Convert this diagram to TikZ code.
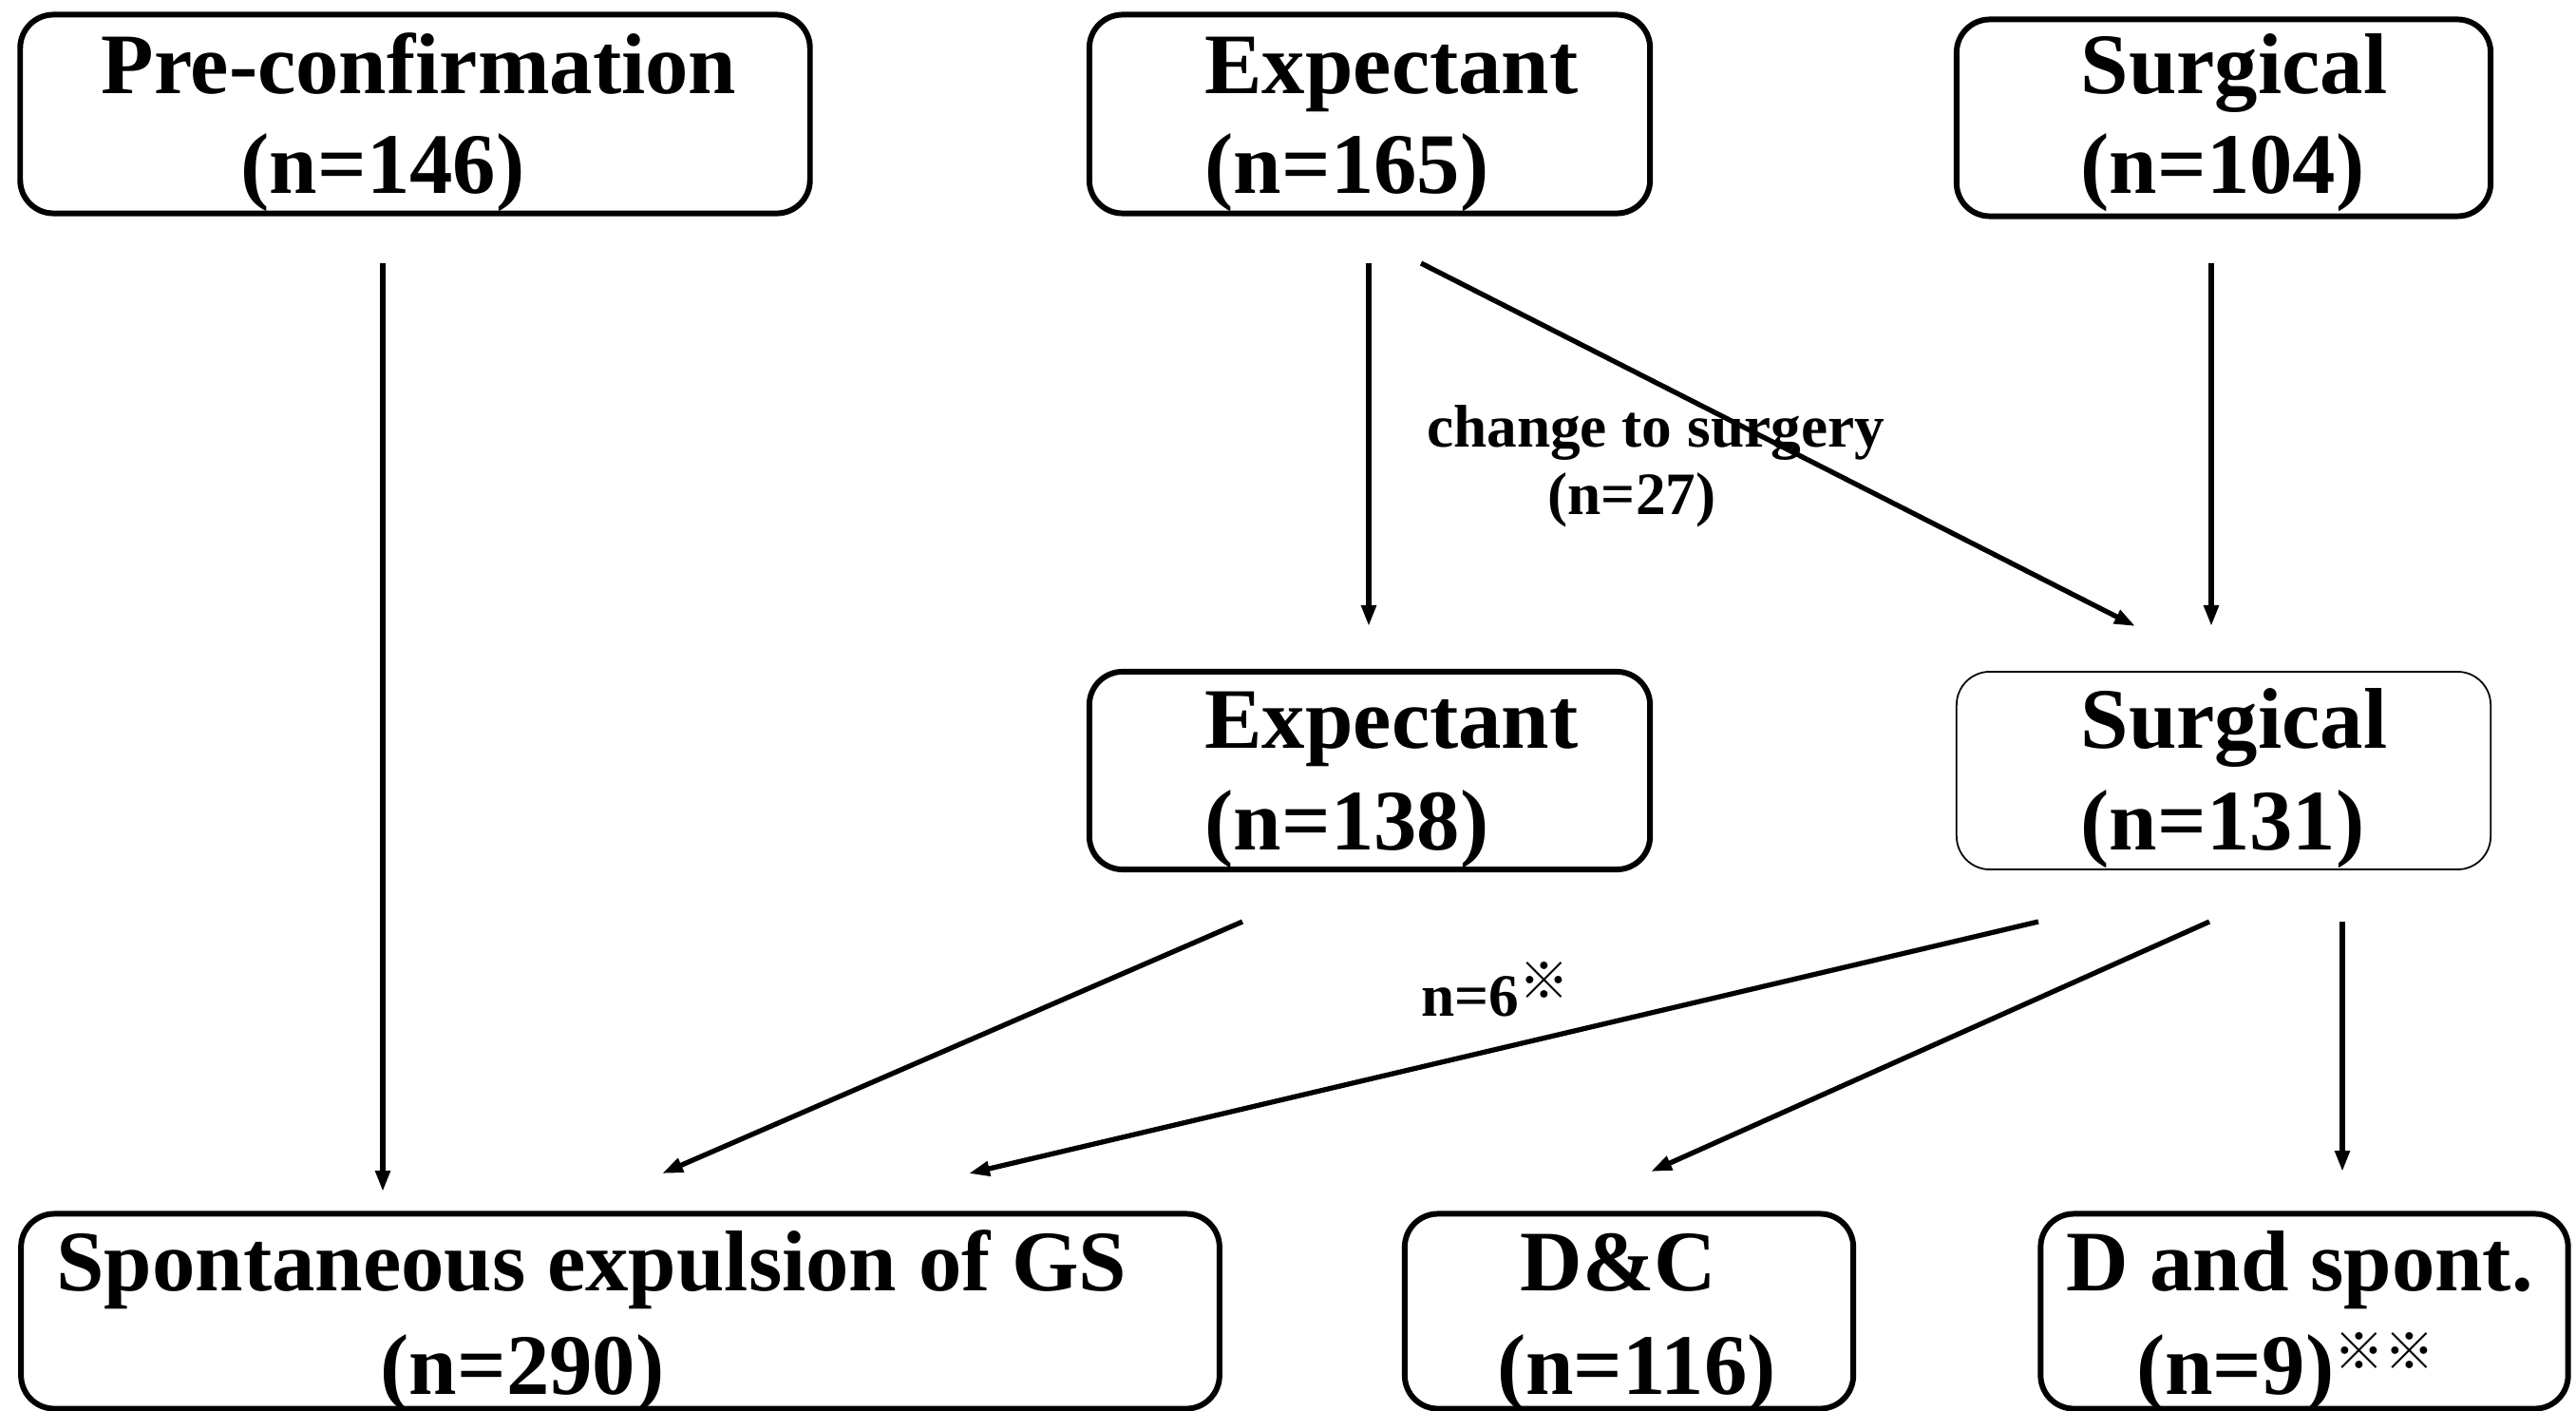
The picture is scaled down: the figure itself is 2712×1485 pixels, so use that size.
\documentclass[tikz,border=0pt]{standalone}
\usepackage{fontspec}
\setmainfont{Liberation Serif}
\newfontfamily\cjk{Noto Sans CJK JP}
\usetikzlibrary{arrows.meta}
\newcommand{\refmark}{\raisebox{0.28em}{\cjk\fontsize{15}{15}\selectfont ※}}
\begin{document}
\begin{tikzpicture}[x=0.01cm,y=-0.01cm,
  box/.style={draw,line width=1.7pt,rounded corners=0.35cm,inner sep=0pt},
  thinbox/.style={draw,line width=0.5pt,rounded corners=0.35cm,inner sep=0pt},
  big/.style={anchor=base,inner sep=0pt,font=\bfseries\fontsize{25.8}{30}\selectfont},
  small/.style={anchor=base,inner sep=0pt,font=\bfseries\fontsize{18}{22}\selectfont},
  arr/.style={line width=1.5pt,-{Triangle[length=0.22cm,width=0.15cm]}}]
\useasboundingbox (0,0) rectangle (2712,1485);
% boxes
\node[box,minimum width=8.31cm,minimum height=2.09cm] (pre) at (437,120) {};
\node[box,minimum width=5.90cm,minimum height=2.09cm] (exp1) at (1442,120) {};
\node[box,minimum width=5.62cm,minimum height=2.07cm] (sur1) at (2341,124) {};
\node[box,minimum width=5.90cm,minimum height=2.08cm] (exp2) at (1442,811) {};
\node[thinbox,minimum width=5.62cm,minimum height=2.08cm] (sur2) at (2341,811) {};
\node[box,minimum width=12.61cm,minimum height=2.05cm] (spont) at (653,1380) {};
\node[box,minimum width=4.72cm,minimum height=2.05cm] (dc) at (1715,1380) {};
\node[box,minimum width=5.55cm,minimum height=2.05cm] (dsp) at (2426,1380) {};
% texts
\node[big] (preA) at (441,99) {Pre-confirmation};
\node[big] (preB) at (403,204) {(n=146)};
\node[big] (exp1A) at (1465,99) {Expectant};
\node[big] (exp1B) at (1418,204) {(n=165)};
\node[big] (sur1A) at (2352,99) {Surgical};
\node[big] (sur1B) at (2340,204) {(n=104)};
\node[big] (exp2A) at (1465,787) {Expectant};
\node[big] (exp2B) at (1418,894) {(n=138)};
\node[big] (sur2A) at (2352,787) {Surgical};
\node[big] (sur2B) at (2340,894) {(n=131)};
\node[big] (spontA) at (623,1358) {Spontaneous expulsion of GS};
\node[big] (spontB) at (550,1467) {(n=290)};
\node[big] (dcA) at (1704,1358) {D\&C};
\node[big] (dcB) at (1723,1467) {(n=116)};
\node[big] (dspA) at (2421,1358) {D and spont.};
\node[big] (dspB) at (2406,1467) {(n=9)\refmark\refmark};
% connector end points
\coordinate (c1s) at (403,277);  \coordinate (c1e) at (403,1254);
\coordinate (c2s) at (1441,277); \coordinate (c2e) at (1441,659);
\coordinate (c3s) at (1496,277); \coordinate (c3e) at (2248,659);
\coordinate (c4s) at (2328,277); \coordinate (c4e) at (2328,659);
\coordinate (c5s) at (1308,970); \coordinate (c5e) at (697,1235);
\coordinate (c6s) at (2146,970); \coordinate (c6e) at (1020,1235);
\coordinate (c7s) at (2326,970); \coordinate (c7e) at (1738,1233);
\coordinate (c8s) at (2466,970); \coordinate (c8e) at (2466,1233);
% connector labels
\node[small] (lab1) at (1743,470) {change to surgery};
\node[small] (lab2) at (1718,541) {(n=27)};
\node[small,anchor=base west] (lab3) at (1496,1069) {n=6\refmark};
% connectors
\draw[arr] (c1s) -- (c1e);
\draw[arr] (c2s) -- (c2e);
\draw[arr] (c3s) -- (c3e);
\draw[arr] (c4s) -- (c4e);
\draw[arr] (c5s) -- (c5e);
\draw[arr] (c6s) -- (c6e);
\draw[arr] (c7s) -- (c7e);
\draw[arr] (c8s) -- (c8e);
\end{tikzpicture}
\end{document}
